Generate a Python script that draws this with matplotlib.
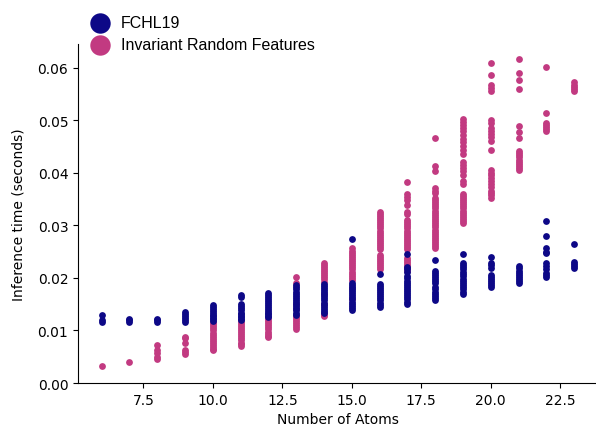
import matplotlib
matplotlib.use('Agg')
import matplotlib.pyplot as plt

# number of atoms per molecule (one column of points each)
atoms = list(range(6, 24))

fchl19_times = [
    [0.0130, 0.0120, 0.0117],
    [0.0121, 0.0119, 0.0117],
    [0.0121, 0.0119, 0.0117],
    [0.0135, 0.0131, 0.0127, 0.0123, 0.0120, 0.0117],
    [0.0148, 0.0144, 0.0140, 0.0137, 0.0133, 0.0130, 0.0127, 0.0124, 0.0121, 0.0118],
    [0.0167, 0.0164, 0.0150, 0.0146, 0.0142, 0.0138, 0.0134, 0.0131, 0.0128, 0.0125, 0.0122, 0.0119],
    [0.0172, 0.0168, 0.0164, 0.0160, 0.0156, 0.0152, 0.0148, 0.0144, 0.0140, 0.0137, 0.0134,
     0.0131, 0.0128, 0.0125],
    [0.0186, 0.0182, 0.0178, 0.0174, 0.0170, 0.0166, 0.0162, 0.0158, 0.0154, 0.0150, 0.0146,
     0.0142, 0.0138, 0.0134, 0.0130],
    [0.0189, 0.0185, 0.0181, 0.0177, 0.0173, 0.0169, 0.0165, 0.0161, 0.0157, 0.0153, 0.0149,
     0.0145, 0.0141, 0.0137, 0.0133],
    [0.0274, 0.0191, 0.0187, 0.0183, 0.0179, 0.0175, 0.0171, 0.0167, 0.0163, 0.0159, 0.0155,
     0.0151, 0.0147, 0.0143, 0.0139],
    [0.0207, 0.0189, 0.0185, 0.0181, 0.0177, 0.0173, 0.0169, 0.0165, 0.0161, 0.0157, 0.0153,
     0.0149, 0.0145],
    [0.0245, 0.0221, 0.0216, 0.0212, 0.0203, 0.0199, 0.0195, 0.0191, 0.0187, 0.0183, 0.0179,
     0.0175, 0.0171, 0.0167, 0.0163, 0.0159, 0.0155, 0.0151],
    [0.0234, 0.0214, 0.0210, 0.0206, 0.0202, 0.0198, 0.0194, 0.0190, 0.0182, 0.0178, 0.0174,
     0.0170, 0.0166, 0.0162, 0.0158],
    [0.0245, 0.0228, 0.0224, 0.0220, 0.0216, 0.0212, 0.0207, 0.0203, 0.0198, 0.0194, 0.0190,
     0.0186, 0.0182, 0.0178, 0.0174, 0.0170],
    [0.0240, 0.0228, 0.0224, 0.0219, 0.0206, 0.0202, 0.0198, 0.0194, 0.0190, 0.0186, 0.0183],
    [0.0222, 0.0218, 0.0214, 0.0210, 0.0206, 0.0202, 0.0198, 0.0194, 0.0190],
    [0.0309, 0.0280, 0.0256, 0.0250, 0.0247, 0.0228, 0.0222, 0.0216, 0.0210, 0.0206, 0.0202],
    [0.0264, 0.0231, 0.0227, 0.0223, 0.0219],
]

irf_times = [
    [0.0032],
    [0.0040],
    [0.0073, 0.0062, 0.0058, 0.0049, 0.0046],
    [0.0088, 0.0085, 0.0076, 0.0062, 0.0059, 0.0056],
    [0.0116, 0.0112, 0.0108, 0.0104, 0.0100, 0.0096, 0.0092, 0.0088, 0.0084, 0.0080, 0.0076,
     0.0072, 0.0068, 0.0065, 0.0062],
    [0.0117, 0.0113, 0.0109, 0.0105, 0.0101, 0.0097, 0.0093, 0.0089, 0.0085, 0.0081, 0.0077,
     0.0074, 0.0071],
    [0.0122, 0.0118, 0.0114, 0.0110, 0.0106, 0.0102, 0.0098, 0.0094, 0.0090, 0.0087],
    [0.0202, 0.0190, 0.0150, 0.0140, 0.0130, 0.0126, 0.0122, 0.0118, 0.0114, 0.0110, 0.0106, 0.0103],
    [0.0229, 0.0225, 0.0221, 0.0217, 0.0213, 0.0209, 0.0205, 0.0201, 0.0197, 0.0193, 0.0170,
     0.0150, 0.0134, 0.0130, 0.0127],
    [0.0256, 0.0252, 0.0248, 0.0244, 0.0240, 0.0236, 0.0232, 0.0228, 0.0224, 0.0220, 0.0216,
     0.0212, 0.0208, 0.0204, 0.0200, 0.0196, 0.0180, 0.0160],
    [0.0326, 0.0322, 0.0318, 0.0314, 0.0310, 0.0306, 0.0302, 0.0298, 0.0294, 0.0290, 0.0286,
     0.0282, 0.0278, 0.0274, 0.0270, 0.0266, 0.0262, 0.0258, 0.0254, 0.0244, 0.0240, 0.0236,
     0.0232, 0.0228, 0.0224, 0.0220, 0.0216],
    [0.0382, 0.0359, 0.0354, 0.0349, 0.0339, 0.0326, 0.0322, 0.0310, 0.0306, 0.0302, 0.0298,
     0.0294, 0.0290, 0.0286, 0.0282, 0.0278, 0.0274, 0.0270, 0.0266, 0.0262, 0.0258, 0.0254,
     0.0238, 0.0234, 0.0230, 0.0226, 0.0222, 0.0218, 0.0214],
    [0.0467, 0.0412, 0.0403, 0.0371, 0.0366, 0.0361, 0.0352, 0.0348, 0.0344, 0.0340, 0.0336,
     0.0332, 0.0328, 0.0324, 0.0320, 0.0316, 0.0312, 0.0308, 0.0304, 0.0300, 0.0296, 0.0292,
     0.0288, 0.0284, 0.0280, 0.0276, 0.0272, 0.0268, 0.0264, 0.0260, 0.0256],
    [0.0503, 0.0497, 0.0491, 0.0485, 0.0479, 0.0472, 0.0465, 0.0458, 0.0451, 0.0444, 0.0436,
     0.0421, 0.0415, 0.0409, 0.0403, 0.0396, 0.0384, 0.0378, 0.0360, 0.0356, 0.0352, 0.0348,
     0.0344, 0.0340, 0.0336, 0.0332, 0.0328, 0.0324, 0.0320, 0.0316, 0.0312, 0.0308, 0.0304],
    [0.0608, 0.0585, 0.0567, 0.0562, 0.0556, 0.0500, 0.0494, 0.0486, 0.0480, 0.0474, 0.0468,
     0.0460, 0.0444, 0.0406, 0.0400, 0.0396, 0.0390, 0.0384, 0.0378, 0.0372, 0.0366, 0.0361,
     0.0357, 0.0352],
    [0.0616, 0.0589, 0.0577, 0.0559, 0.0488, 0.0478, 0.0467, 0.0441, 0.0437, 0.0433, 0.0429,
     0.0425, 0.0421, 0.0417, 0.0413, 0.0409, 0.0406],
    [0.0602, 0.0514, 0.0495, 0.0491, 0.0487, 0.0483, 0.0479],
    [0.0572, 0.0567, 0.0563, 0.0559, 0.0556],
]

labels = ['FCHL19', 'Invariant Random Features']
colors = ['#0d0887', '#c23a81']


def flatten(times):
    xs, ys = [], []
    for n, col in zip(atoms, times):
        xs += [n] * len(col)
        ys += col
    return xs, ys


fig = plt.figure(figsize=(5.96, 4.31), dpi=100)
ax = fig.add_axes([0.131, 0.109, 0.872, 0.787])

x2, y2 = flatten(irf_times)
x1, y1 = flatten(fchl19_times)
h2 = ax.scatter(x2, y2, s=24, color=colors[1], linewidths=0)
h1 = ax.scatter(x1, y1, s=24, color=colors[0], linewidths=0)

ax.set_ylim(bottom=0)
ax.set_xlabel('Number of Atoms')
ax.set_ylabel('Inference time (seconds)', labelpad=9)
ax.spines['top'].set_visible(False)
ax.spines['right'].set_visible(False)

fig.legend([h1, h2], labels, loc='upper left', bbox_to_anchor=(0.122, 0.988),
           frameon=False, markerscale=3.0, scatterpoints=1,
           handletextpad=0.3, labelspacing=0.4, borderpad=0.2,
           prop={'family': ['Liberation Sans'], 'size': 11.5})

fig.savefig('out.png', dpi=100)
